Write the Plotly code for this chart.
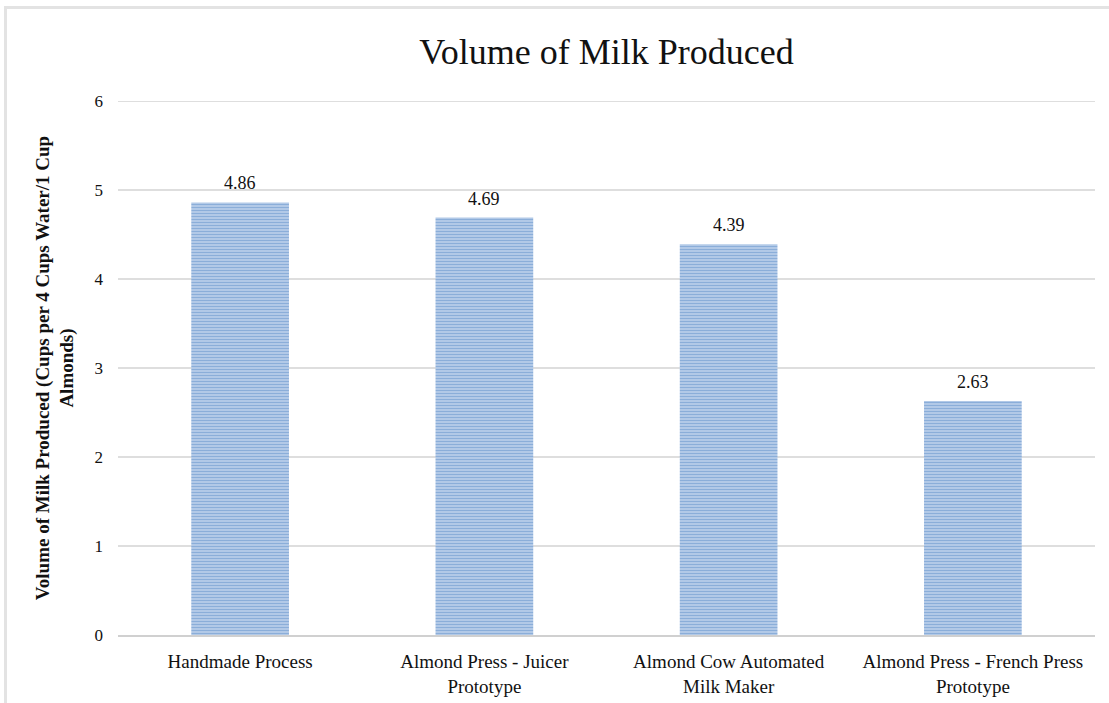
import plotly.graph_objects as go

# Chart data
categories = [
    "Handmade Process",
    "Almond Press - Juicer<br>Prototype",
    "Almond Cow Automated<br>Milk Maker",
    "Almond Press - French Press<br>Prototype",
]
milk_volume = [4.86, 4.69, 4.39, 2.63]
y_ticks = [0, 1, 2, 3, 4, 5, 6]

W, H = 1109, 703
M_L, M_R, M_T, M_B = 118, 14, 101, 68
SERIF = "Liberation Serif, Times New Roman, serif"
GRID = "#dedede"


def px_to_paper_x(px):
    return (px - M_L) / (W - M_L - M_R)


def px_to_paper_y(py):
    return (H - M_B - py) / (H - M_T - M_B)


fig = go.Figure()
fig.add_trace(go.Bar(
    x=categories,
    y=milk_volume,
    width=0.4,
    marker=dict(
        color="#c6d9ef",
        line=dict(width=0),
        pattern=dict(shape="-", fgcolor="#4479be", bgcolor="#d3e2f4",
                     size=3, solidity=0.65, fillmode="overlay"),
    ),
    hoverinfo="x+y",
))

# value labels above each bar
for cat, val in zip(categories, milk_volume):
    fig.add_annotation(x=cat, y=val, text=f"{val:.2f}", showarrow=False,
                       yanchor="bottom", yshift=7,
                       font=dict(family=SERIF, size=18, color="#111"))

# gridline at the top of the value range (sits on the plot edge)
fig.add_shape(type="line", xref="paper", yref="y", layer="below",
              x0=0, x1=1, y0=y_ticks[-1], y1=y_ticks[-1],
              line=dict(color=GRID, width=2))

# outer frame of the chart area (top and left edges)
frame_color = "#e3e3e3"
fig.add_shape(type="line", xref="paper", yref="paper",
              x0=px_to_paper_x(5), x1=px_to_paper_x(W + 5),
              y0=px_to_paper_y(7.5), y1=px_to_paper_y(7.5),
              line=dict(color=frame_color, width=3))
fig.add_shape(type="line", xref="paper", yref="paper",
              x0=px_to_paper_x(5.5), x1=px_to_paper_x(5.5),
              y0=px_to_paper_y(6), y1=px_to_paper_y(H + 5),
              line=dict(color=frame_color, width=3))

fig.update_layout(
    width=W, height=H,
    margin=dict(l=M_L, r=M_R, t=M_T, b=M_B),
    paper_bgcolor="white", plot_bgcolor="white",
    showlegend=False,
    title=dict(text="Volume of Milk Produced", x=0.5, xref="paper",
               xanchor="center", y=1 - 51 / H, yanchor="middle",
               font=dict(family=SERIF, size=36, color="#111")),
    xaxis=dict(
        showgrid=False, showline=True, linecolor="#d0d0d0", linewidth=2,
        ticks="", ticklabelstandoff=8, automargin=False,
        tickfont=dict(family=SERIF, size=19, color="#111"),
        range=[-0.5, 3.5],
    ),
    yaxis=dict(
        range=[0, 6], tickvals=y_ticks, showgrid=True, automargin=False,
        gridcolor=GRID, gridwidth=2, zeroline=False, showline=False,
        ticks="", ticklabelstandoff=14,
        tickfont=dict(family=SERIF, size=17, color="#111"),
        title=dict(
            text="<b>Volume of Milk Produced (Cups per 4 Cups Water/1 Cup<br>Almonds)</b>",
            font=dict(family=SERIF, size=19, color="#111"), standoff=15,
        ),
    ),
)

fig.write_html("out.html")
